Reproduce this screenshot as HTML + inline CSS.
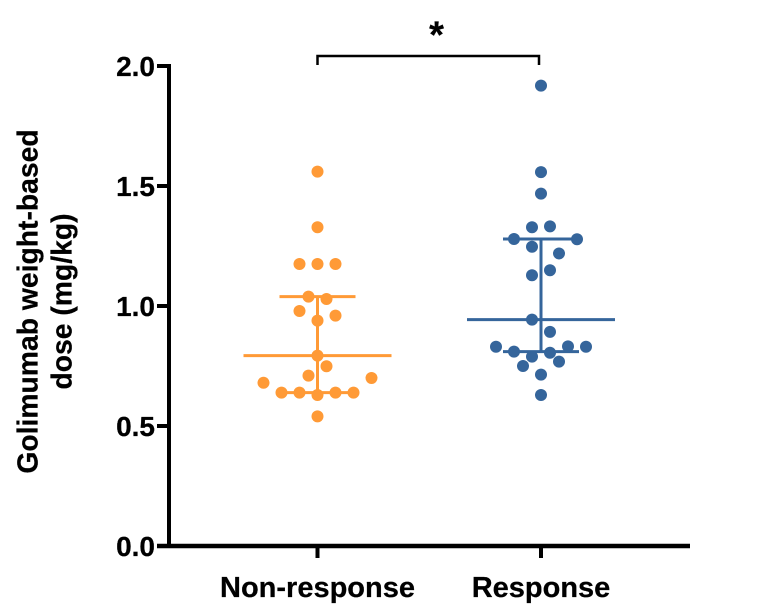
<!DOCTYPE html>
<html>
<head>
<meta charset="utf-8">
<style>
html,body{margin:0;padding:0;background:#fff;}
svg{display:block;}
text{font-family:"Liberation Sans",sans-serif;font-weight:bold;fill:#000;stroke:#000;stroke-width:0.25;}
</style>
</head>
<body>
<svg id="chart" width="765" height="607" viewBox="0 0 765 607" xmlns="http://www.w3.org/2000/svg"></svg>
<script>
const categories = ['Non-response', 'Response'];
const yTicks = [0, 0.5, 1, 1.5, 2];
const yTickLabels = ['0.0', '0.5', '1.0', '1.5', '2.0'];
const titleLines = ['Golimumab weight-based', 'dose (mg/kg)'];

const nonResponseValues = [1.56, 1.328, 1.175, 1.175, 1.175, 1.039, 1.029, 0.979, 0.96, 0.939, 0.793, 0.749, 0.71, 0.68, 0.70, 0.639, 0.639, 0.629, 0.639, 0.639, 0.54];
const nonResponseSlots = [0, 0, -2, 0, 2, -1, 1, -2, 2, 0, 0, 1, -1, -6, 6, -4, -2, 0, 2, 4, 0];
const nonResponseMedian = 0.793;
const nonResponseQ1 = 0.639;
const nonResponseQ3 = 1.039;

const responseValues = [1.918, 1.558, 1.468, 1.328, 1.332, 1.279, 1.278, 1.247, 1.219, 1.149, 1.128, 0.943, 0.892, 0.83, 0.81, 0.789, 0.805, 0.832, 0.83, 0.768, 0.75, 0.714, 0.629];
const responseSlots = [0, 0, 0, -1, 1, -3, 4, -1, 2, 1, -1, -1, 1, -5, -3, -1, 1, 3, 5, 2, -2, 0, 0];
const responseMedian = 0.943;
const responseQ1 = 0.81;
const responseQ3 = 1.279;

const NS = 'http://www.w3.org/2000/svg';
const svg = document.getElementById('chart');
const yScale = v => 546 - v * 240;
const xScale = i => 317.5 + i * 223.5;
const slotScale = s => s * 9;

function make(tag, attrs, text) {
  const el = document.createElementNS(NS, tag);
  for (const k in attrs) el.setAttribute(k, attrs[k]);
  if (text !== undefined) el.textContent = text;
  svg.appendChild(el);
  return el;
}
function seg(x1, y1, x2, y2, color, w) {
  return make('line', {x1, y1, x2, y2, stroke: color, 'stroke-width': w});
}

// y axis
let el = seg(169, yScale(2) - 2, 169, yScale(0) + 2, '#000', 4);


// x axis
el = seg(157, yScale(0), 690, yScale(0), '#000', 4.5);



yTicks.forEach((t, i) => {
  const tick = seg(157, yScale(t), 169, yScale(t), '#000', 4);
  
  
  const lab = make('text', {x: 155, y: yScale(t) + 10, 'text-anchor': 'end', 'font-size': 28}, yTickLabels[i]);
  
  
});

categories.forEach((c, i) => {
  const tick = seg(xScale(i), yScale(0), xScale(i), yScale(0) + 12, '#000', 4);
  
  
  const lab = make('text', {x: xScale(i), y: 597, 'text-anchor': 'middle', 'font-size': 29}, c);
  
  
});

titleLines.forEach((line, i) => {
  const cy = 301.5;
  const bx = 37.7 + i * 34;
  const t = make('text', {x: 0, y: 0, 'text-anchor': 'middle', 'font-size': 28.3, transform: `translate(${bx},${cy}) rotate(-90)`}, line);
  
  
});

function drawGroup(i, values, slots, median, q1, q3, color, name) {
  const cx = xScale(i);
  let m = seg(cx, yScale(q1), cx, yScale(q3), color, 3);
  
  
  m = seg(cx - 74, yScale(median), cx + 74, yScale(median), color, 3);
  
  
  m = seg(cx - 38, yScale(q3), cx + 38, yScale(q3), color, 3);
  
  
  m = seg(cx - 38, yScale(q1), cx + 38, yScale(q1), color, 3);
  
  
  values.forEach((v, k) => {
    const c = make('circle', {cx: cx + slotScale(slots[k]), cy: yScale(v), r: 6, fill: color});
    
    
  });
}
drawGroup(0, nonResponseValues, nonResponseSlots, nonResponseMedian, nonResponseQ1, nonResponseQ3, '#FF9A36', 'non-response');
drawGroup(1, responseValues, responseSlots, responseMedian, responseQ1, responseQ3, '#35659B', 'response');

el = make('path', {d: `M${xScale(0)} 65V56H${xScale(1) - 2}V65`, fill: 'none', stroke: '#000', 'stroke-width': 2.5});


el = make('text', {x: 436.5, y: 47.5, 'text-anchor': 'middle', 'font-size': 38}, '*');


</script>
</body>
</html>
